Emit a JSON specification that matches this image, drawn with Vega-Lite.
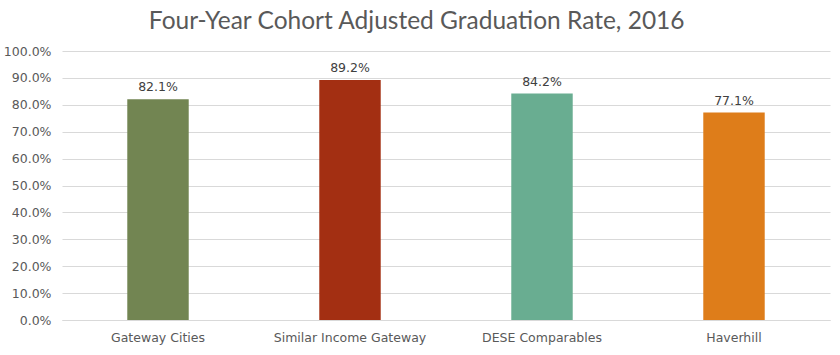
{
  "$schema": "https://vega.github.io/schema/vega-lite/v6.json",
  "width": 768,
  "height": 269,
  "autosize": {"type": "none"},
  "padding": {"left": 62, "top": 51, "right": 10, "bottom": 35},
  "background": "white",
  "title": {
    "text": "Four-Year Cohort Adjusted Graduation Rate, 2016",
    "font": "Lato",
    "fontSize": 24.5,
    "fontWeight": "normal",
    "color": "#595959",
    "anchor": "middle",
    "frame": "bounds",
    "offset": 11
  },
  "data": {
    "values": [
      {"group": "Gateway Cities", "rate": 0.821},
      {"group": "Similar Income Gateway", "rate": 0.892},
      {"group": "DESE Comparables", "rate": 0.842},
      {"group": "Haverhill", "rate": 0.771}
    ]
  },
  "config": {
    "view": {"stroke": null},
    "font": "DejaVu Sans"
  },
  "encoding": {
    "x": {
      "field": "group",
      "type": "nominal",
      "sort": null,
      "title": null,
      "scale": {"paddingInner": 0.68, "paddingOuter": 0.34},
      "axis": {
        "labelAngle": 0,
        "labelFont": "DejaVu Sans",
        "labelFontSize": 12.5,
        "labelColor": "#595959",
        "labelPadding": 11,
        "ticks": false,
        "domainColor": "#d9d9d9",
        "domainWidth": 1
      }
    },
    "y": {
      "field": "rate",
      "type": "quantitative",
      "title": null,
      "scale": {"domain": [0, 1], "nice": false},
      "axis": {
        "format": ".1%",
        "values": [0, 0.1, 0.2, 0.3, 0.4, 0.5, 0.6, 0.7, 0.8, 0.9, 1.0],
        "labelOverlap": false,
        "labelFont": "DejaVu Sans",
        "labelFontSize": 12.5,
        "labelColor": "#595959",
        "labelPadding": 11,
        "ticks": false,
        "domain": false,
        "gridColor": "#d9d9d9",
        "gridWidth": 1
      }
    }
  },
  "layer": [
    {
      "mark": {"type": "bar"},
      "encoding": {
        "color": {
          "field": "group",
          "type": "nominal",
          "legend": null,
          "scale": {
            "domain": ["Gateway Cities", "Similar Income Gateway", "DESE Comparables", "Haverhill"],
            "range": ["#728552", "#A32F12", "#69AD91", "#DE7D1A"]
          }
        }
      }
    },
    {
      "mark": {"type": "text", "baseline": "bottom", "dy": -5, "fontSize": 12.5, "color": "#404040", "font": "DejaVu Sans"},
      "encoding": {
        "text": {"field": "rate", "type": "quantitative", "format": ".1%"}
      }
    }
  ]
}
